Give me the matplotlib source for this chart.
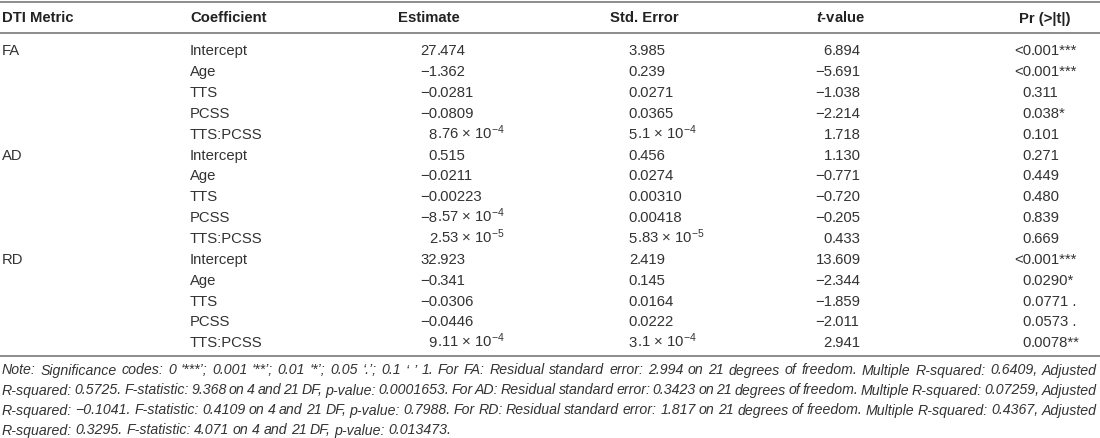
import matplotlib
matplotlib.use("Agg")
import matplotlib.pyplot as plt

plt.rcParams["font.family"] = ["Liberation Sans", "DejaVu Sans"]
plt.rcParams["mathtext.fontset"] = "custom"
plt.rcParams["mathtext.rm"] = "Liberation Sans"
plt.rcParams["mathtext.it"] = "Liberation Sans:italic"
plt.rcParams["mathtext.bf"] = "Liberation Sans:bold"
plt.rcParams["mathtext.bfit"] = "Liberation Sans:italic:bold"

# table data
headers = ["DTI Metric", "Coefficient", "Estimate", "Std. Error",
           r"$\mathbfit{t}$-value", "Pr (>|t|)"]
metrics = ["FA", "", "", "", "", "AD", "", "", "", "", "RD", "", "", "", ""]
coefficients = ["Intercept", "Age", "TTS", "PCSS", "TTS:PCSS"] * 3
estimates = ["27.474", "−1.362", "−0.0281", "−0.0809", "8.76 × 10$^{-4}$",
             "0.515", "−0.0211", "−0.00223", "−8.57 × 10$^{-4}$", "2.53 × 10$^{-5}$",
             "32.923", "−0.341", "−0.0306", "−0.0446", "9.11 × 10$^{-4}$"]
std_errors = ["3.985", "0.239", "0.0271", "0.0365", "5.1 × 10$^{-4}$",
              "0.456", "0.0274", "0.00310", "0.00418", "5.83 × 10$^{-5}$",
              "2.419", "0.145", "0.0164", "0.0222", "3.1 × 10$^{-4}$"]
t_values = ["6.894", "−5.691", "−1.038", "−2.214", "1.718",
            "1.130", "−0.771", "−0.720", "−0.205", "0.433",
            "13.609", "−2.344", "−1.859", "−2.011", "2.941"]
p_values = ["<0.001***", "<0.001***", "0.311", "0.038*", "0.101",
            "0.271", "0.449", "0.480", "0.839", "0.669",
            "<0.001***", "0.0290*", "0.0771 .", "0.0573 .", "0.0078**"]

note_lines = [
    "Note: Significance codes: 0 ‘***’; 0.001 ‘**’; 0.01 ‘*’; 0.05 ‘.’; 0.1 ‘ ’ 1. For FA: Residual standard error: 2.994 on 21 degrees of freedom. Multiple R-squared: 0.6409, Adjusted",
    "R-squared: 0.5725. F-statistic: 9.368 on 4 and 21 DF, p-value: 0.0001653. For AD: Residual standard error: 0.3423 on 21 degrees of freedom. Multiple R-squared: 0.07259, Adjusted",
    "R-squared: −0.1041. F-statistic: 0.4109 on 4 and 21 DF, p-value: 0.7988. For RD: Residual standard error: 1.817 on 21 degrees of freedom. Multiple R-squared: 0.4367, Adjusted",
    "R-squared: 0.3295. F-statistic: 4.071 on 4 and 21 DF, p-value: 0.013473.",
]

fig = plt.figure(figsize=(11, 4.38), dpi=100)
ax = fig.add_axes([0, 0, 1, 1])
ax.set_xlim(0, 1100)
ax.set_ylim(438, 0)
ax.axis("off")

fs = 10.7
note_fs = 10.2
txt = "#333333"
hdr = "#222222"
line_col = "#8c8c8c"

# rules
for yl in [1.5, 33, 356]:
    ax.plot([0, 1100], [yl, yl], color=line_col, lw=1.4, solid_capstyle="butt")

# header (baseline placed)
hb = 22.5
ax.text(2, hb, headers[0], fontsize=fs, fontweight="bold", color=hdr, va="baseline")
ax.text(190, hb, headers[1], fontsize=fs, fontweight="bold", color=hdr, va="baseline")
for cx, h in zip([429, 644, 841, 1045], headers[2:]):
    ax.text(cx, hb, h, fontsize=fs, fontweight="bold", color=hdr,
            va="baseline", ha="center")


def dec_text(xd, y, s):
    # align on the decimal point
    i = s.index(".")
    ax.text(xd, y, s[:i], fontsize=fs, color=txt, va="baseline", ha="right")
    ax.text(xd, y, s[i:], fontsize=fs, color=txt, va="baseline", ha="left")


row0, step = 55.3, 20.85
for r in range(len(coefficients)):
    y = row0 + r * step
    if metrics[r]:
        ax.text(2, y, metrics[r], fontsize=fs, color=txt, va="baseline")
    ax.text(190, y, coefficients[r], fontsize=fs, color=txt, va="baseline")
    dec_text(437, y, estimates[r])
    dec_text(637, y, std_errors[r])
    dec_text(832, y, t_values[r])
    dec_text(1031, y, p_values[r])

# justified note
fig.canvas.draw()
renderer = fig.canvas.get_renderer()
ny0, nstep = 374.5, 20.0
for k, line in enumerate(note_lines):
    y = ny0 + k * nstep
    words = line.split(" ")
    texts = [ax.text(0, y, w, fontsize=note_fs, style="italic", color=txt,
                     va="baseline") for w in words]
    widths = [t.get_window_extent(renderer).width for t in texts]
    if k < len(note_lines) - 1:
        gap = (1097 - 2 - sum(widths)) / (len(words) - 1)
    else:
        gap = 3.5
    x = 2
    for t, w in zip(texts, widths):
        t.set_x(x)
        x += w + gap

fig.savefig("out.png", dpi=100)
